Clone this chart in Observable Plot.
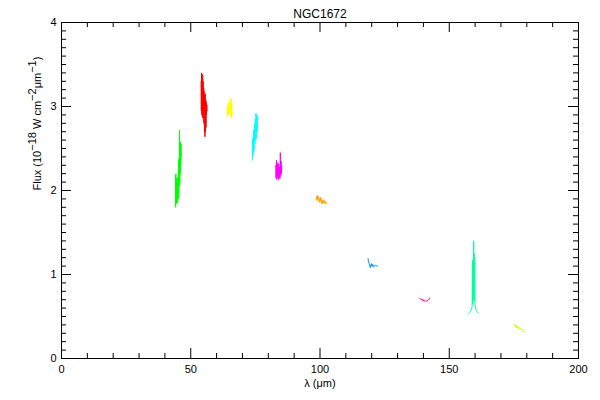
<!DOCTYPE html>
<html>
<head>
<meta charset="utf-8">
<script src="https://cdn.jsdelivr.net/npm/d3@7"></script>
<script src="https://cdn.jsdelivr.net/npm/@observablehq/plot@0.6"></script>
<style>
  body { margin: 0; background: #fff; }
  #chart svg { font-family: "Liberation Sans", "DejaVu Sans", sans-serif; }
</style>
</head>
<body>
<div id="chart"></div>
<script>
const title = "NGC1672";
const xLabel = "λ (μm)";
// y label pieces: [text, isSuperscript]
const yLabelParts = [["Flux (10", 0], ["−18", 1], [" W cm", 0], ["−2", 1], ["μm", 0], ["−1", 1], [")", 0]];
const yLabel = yLabelParts.map(p => p[0]).join("");
const xTickLabels = [0, 50, 100, 150, 200];
const yTickLabels = [0, 1, 2, 3, 4];
const xMinorTicks = [0, 10, 20, 30, 40, 50, 60, 70, 80, 90, 100, 110, 120, 130, 140, 150, 160, 170, 180, 190, 200];
const yMinorTicks = d3.range(0, 41).map(i => i / 10);

const bandNames = ["45", "55", "65", "75", "84", "100", "120", "140", "159", "177"];
const bandColors = ["#00ff00", "#ff0000", "#ffff00", "#00ffff", "#ff00ff", "#ffa000", "#0096ff", "#ff0096", "#00ffa0", "#c8ff00"];

// [wavelength (µm), flux]
const band45 = [[44.1,2.17],[44.15,1.80],[44.25,2.20],[44.35,1.84],[44.45,2.12],[44.55,1.86],[44.65,2.15],[44.75,1.85],[44.85,2.10],[44.95,1.88],[45.05,2.15],[45.15,1.90],[45.25,2.35],[45.35,1.92],[45.45,2.38],[45.55,2.05],[45.65,2.72],[45.75,2.10],[45.85,2.40],[45.95,2.20],[46.05,2.58],[46.15,2.30],[46.25,2.55],[46.3,2.40]];
const band55 = [[54.0,3.30],[54.1,2.95],[54.2,3.40],[54.3,2.90],[54.4,3.36],[54.5,2.88],[54.6,3.38],[54.7,2.86],[54.8,3.30],[54.9,2.95],[55.0,3.22],[55.1,2.80],[55.2,3.18],[55.3,2.70],[55.4,3.12],[55.5,2.64],[55.6,3.15],[55.7,2.70],[55.8,3.08],[55.9,2.75],[56.0,3.05],[56.1,2.90],[56.2,3.02],[56.3,2.95]];
const band65 = [[64.1,2.98],[64.2,2.88],[64.35,3.02],[64.5,2.90],[64.65,3.05],[64.8,2.92],[64.95,3.00],[65.1,2.95],[65.25,3.08],[65.4,2.88],[65.55,3.10],[65.7,2.87],[65.85,3.04],[66.0,2.90]];
const band75 = [[73.8,2.36],[73.9,2.62],[74.0,2.40],[74.1,2.60],[74.2,2.45],[74.35,2.72],[74.5,2.48],[74.65,2.79],[74.8,2.55],[74.95,2.85],[75.1,2.60],[75.25,2.92],[75.4,2.62],[75.55,2.90],[75.7,2.70],[75.8,2.88]];
const band84 = [[82.9,2.30],[83.0,2.15],[83.15,2.36],[83.3,2.13],[83.45,2.33],[83.6,2.16],[83.75,2.30],[83.9,2.13],[84.05,2.32],[84.2,2.15],[84.35,2.28],[84.5,2.14],[84.65,2.45],[84.8,2.18],[84.95,2.35],[85.1,2.20],[85.2,2.28]];
const band100 = [[98.5,1.90],[98.7,1.93],[98.9,1.88],[99.1,1.94],[99.3,1.90],[99.5,1.92],[99.7,1.86],[99.9,1.90],[100.1,1.88],[100.3,1.92],[100.5,1.85],[100.7,1.89],[100.9,1.84],[101.1,1.88],[101.3,1.86],[101.5,1.89],[101.7,1.85],[101.9,1.87],[102.1,1.84],[102.4,1.86],[102.7,1.85]];
const band120 = [[118.6,1.19],[118.7,1.16],[118.9,1.14],[119.1,1.12],[119.3,1.10],[119.5,1.08],[119.7,1.12],[119.9,1.13],[120.1,1.10],[120.3,1.12],[120.5,1.09],[120.8,1.11],[121.1,1.10],[121.5,1.11],[121.9,1.10],[122.3,1.10]];
const band140 = [[138.5,0.72],[138.8,0.71],[139.1,0.70],[139.4,0.71],[139.7,0.69],[140.0,0.70],[140.3,0.68],[140.6,0.69],[140.9,0.68],[141.2,0.68],[141.5,0.69],[141.8,0.69],[142.1,0.70],[142.4,0.72]];
const band159 = [[157.4,0.53],[157.7,0.54],[158.0,0.55],[158.3,0.57],[158.6,0.59],[158.85,0.62],[159.0,1.17],[159.1,0.65],[159.25,1.15],[159.35,0.70],[159.45,1.40],[159.55,0.75],[159.65,1.25],[159.75,0.68],[159.85,1.20],[159.95,0.64],[160.2,0.60],[160.5,0.57],[160.8,0.55],[161.2,0.54]];
const band177 = [[175.2,0.41],[175.4,0.39],[175.6,0.40],[175.8,0.37],[176.0,0.39],[176.2,0.36],[176.4,0.38],[176.6,0.37],[176.8,0.36],[177.0,0.37],[177.3,0.35],[177.6,0.36],[177.9,0.34],[178.2,0.35],[178.5,0.34],[178.8,0.33],[179.0,0.31]];

const bands = [band45, band55, band65, band75, band84, band100, band120, band140, band159, band177];
const rows = bands.flatMap((b, i) => b.map(([w, f]) => ({band: bandNames[i], color: bandColors[i], w, f})));

const W = 600, H = 400;
const mt = 22, mb = 42, ml = 61, mr = 22;
const iw = W - ml - mr, ih = H - mt - mb;
const isMajorX = d => xTickLabels.includes(d);
const isMajorY = d => Math.abs(d - Math.round(d)) < 1e-9;

const chart = Plot.plot({
  width: W, height: H,
  marginTop: mt, marginBottom: mb, marginLeft: ml, marginRight: mr,
  x: {domain: [0, 200]},
  y: {domain: [0, 4]},
  color: {type: "identity"},
  style: {fontSize: "11px", fontFamily: "Liberation Sans, DejaVu Sans, sans-serif", background: "#fff", color: "#000"},
  marks: [
    Plot.line(rows, {x: "w", y: "f", z: "band", stroke: "color", strokeWidth: 1}),
    Plot.frame({stroke: "#000", strokeWidth: 1}),
    Plot.tickX(xMinorTicks.filter(d => !isMajorX(d)), {x: d => d, insetTop: ih - 5}),
    Plot.tickX(xTickLabels, {x: d => d, insetTop: ih - 10}),
    Plot.tickX(xMinorTicks.filter(d => !isMajorX(d)), {x: d => d, insetBottom: ih - 5}),
    Plot.tickX(xTickLabels, {x: d => d, insetBottom: ih - 10}),
    Plot.tickY(yMinorTicks.filter(d => !isMajorY(d)), {y: d => d, insetRight: iw - 5}),
    Plot.tickY(yTickLabels, {y: d => d, insetRight: iw - 10}),
    Plot.tickY(yMinorTicks.filter(d => !isMajorY(d)), {y: d => d, insetLeft: iw - 5}),
    Plot.tickY(yTickLabels, {y: d => d, insetLeft: iw - 10}),
    Plot.axisX(xTickLabels, {tickSize: 0, tickPadding: 7, label: null, tickFormat: d3.format("d")}),
    Plot.axisY(yTickLabels, {tickSize: 0, tickPadding: 5, label: null, tickFormat: d3.format("d")}),
    Plot.text([title], {frameAnchor: "top", dy: -13, fontSize: 12}),
    Plot.text([xLabel], {frameAnchor: "bottom", dy: 28}),
    Plot.text([yLabel], {frameAnchor: "left", dx: -24, rotate: -90})
  ]
});
document.getElementById("chart").appendChild(chart);

// Rebuild the y label with raised superscripts
d3.select(chart).selectAll("text").filter(function() { return this.textContent === yLabel; }).each(function() {
  const t = d3.select(this);
  t.text(null);
  let prevSup = 0;
  yLabelParts.forEach(([s, sup]) => {
    const ts = t.append("tspan").text(s);
    const shift = sup - prevSup;
    if (shift !== 0) ts.attr("dy", (-shift * 0.45) + "em");
    prevSup = sup;
  });
});
</script>
</body>
</html>
